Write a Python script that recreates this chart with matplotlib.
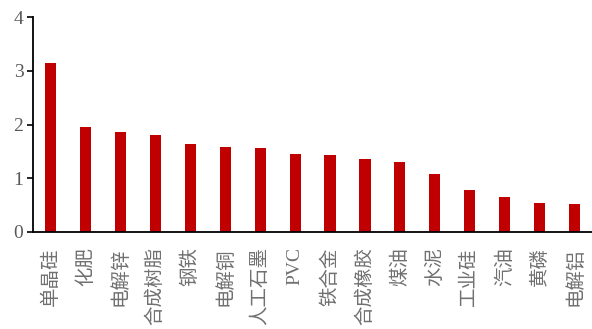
import matplotlib.pyplot as plt
import numpy as np

categories = ["单晶硅", "化肥", "电解锌", "合成树脂", "钢铁", "电解铜", "人工石墨", "PVC",
              "铁合金", "合成橡胶", "煤油", "水泥", "工业硅", "汽油", "黄磷", "电解铝"]
values = [3.15, 1.95, 1.87, 1.80, 1.63, 1.58, 1.57, 1.46,
          1.43, 1.36, 1.31, 1.08, 0.79, 0.65, 0.54, 0.52]

fig = plt.figure(figsize=(5.92, 3.29), dpi=100)
ax = fig.add_axes([0.056, 0.295, 0.944, 0.653])

x = np.arange(len(categories))
ax.bar(x, values, width=0.32, color="#C00000")

ax.set_xlim(-0.5, 15.5)
ax.set_ylim(0, 4)
ax.set_yticks([0, 1, 2, 3, 4])

for s in ["top", "right"]:
    ax.spines[s].set_visible(False)
for s in ["left", "bottom"]:
    ax.spines[s].set_linewidth(1.3)
    ax.spines[s].set_color("black")

ax.set_xticks(x)
ax.set_xticklabels(categories, rotation=90, fontsize=14, color="#707070",
                   family=["Liberation Serif", "Noto Sans CJK SC"], weight="light")
ax.tick_params(axis="x", length=0, pad=11)
ax.tick_params(axis="y", length=4, width=1.2, direction="out", pad=3,
               labelsize=14, labelcolor="#595959")
for t in ax.get_yticklabels():
    t.set_family("Liberation Serif")

plt.savefig("out.png", dpi=100)
